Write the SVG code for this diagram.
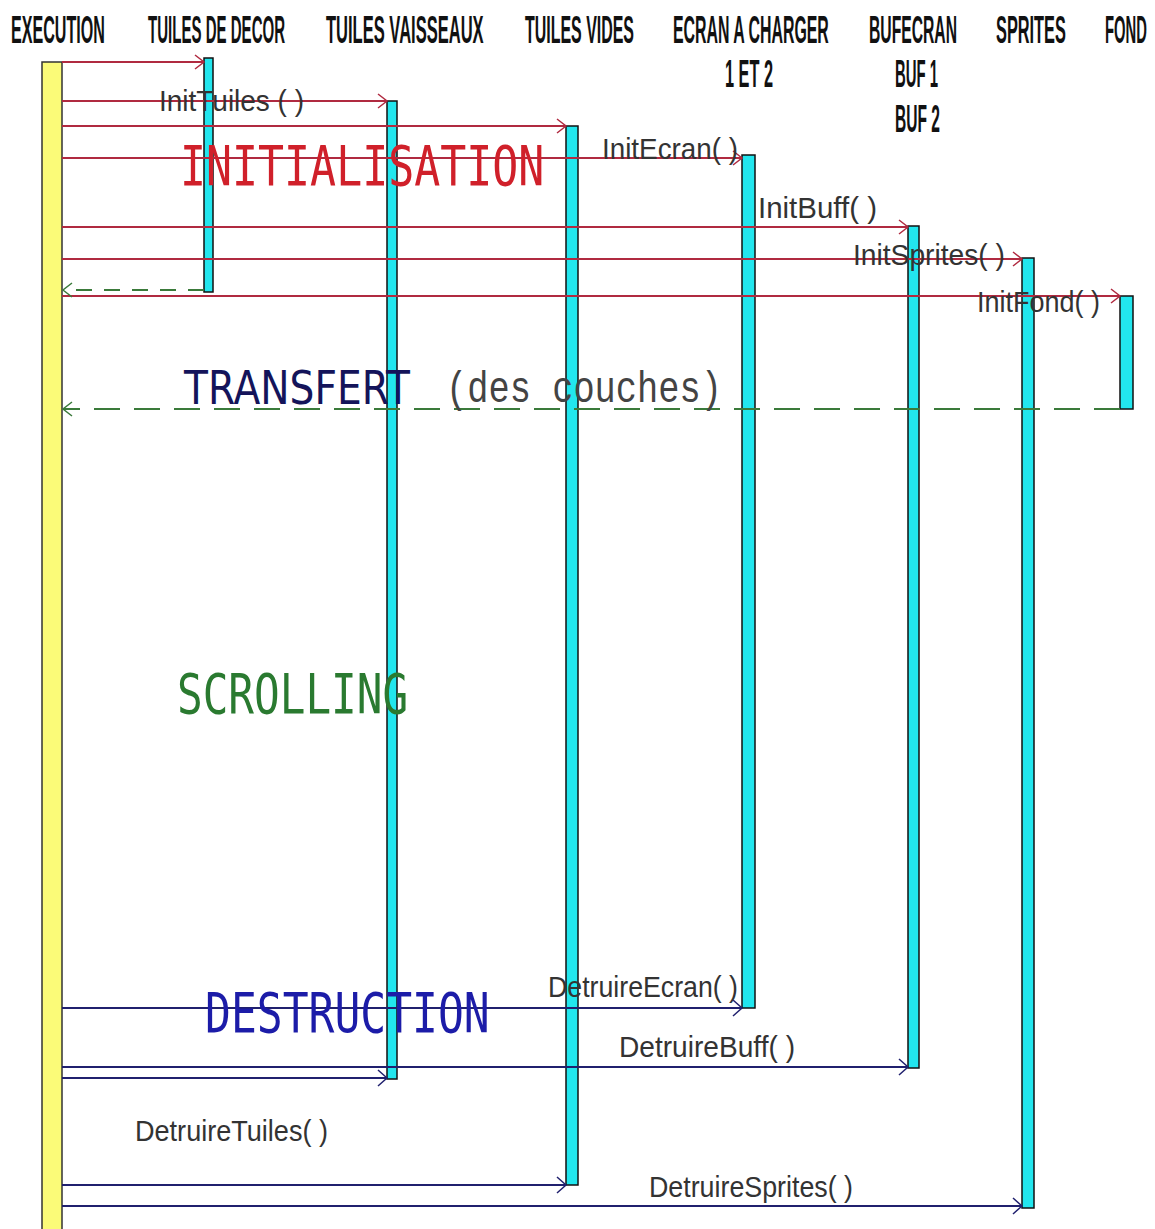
<svg xmlns="http://www.w3.org/2000/svg" width="1155" height="1229" viewBox="0 0 1155 1229">
<defs>
<style>
.hdr{font-family:"Liberation Sans","DejaVu Sans",sans-serif;font-weight:bold;font-size:38px;fill:#111}
.bar{fill:#22e6ee;stroke:#111;stroke-width:1.5}
.exec{fill:#fbfb78;stroke:#333;stroke-width:1.5}
.call{stroke:#b02a40;stroke-width:2;fill:none}
.dcall{stroke:#20206e;stroke-width:2;fill:none}
.ret{stroke:#3a7a3a;stroke-width:2;fill:none}
.lbl{font-family:"Liberation Sans","DejaVu Sans",sans-serif;font-size:30px;fill:#333}
.big{font-family:"DejaVu Sans Mono","Liberation Mono",monospace;font-size:56px}
</style>
<marker id="aRed" markerUnits="userSpaceOnUse" markerWidth="20" markerHeight="20" refX="0" refY="0" viewBox="-12 -10 14 20" orient="auto">
<path d="M-9,-7 L0,0 L-9,7" fill="none" stroke="#b02a40" stroke-width="1.5"/>
</marker>
<marker id="aBlue" markerUnits="userSpaceOnUse" markerWidth="20" markerHeight="20" refX="0" refY="0" viewBox="-12 -10 14 20" orient="auto">
<path d="M-9,-8 L0,0 L-9,8" fill="none" stroke="#20206e" stroke-width="1.5"/>
</marker>
<marker id="aGreen" markerUnits="userSpaceOnUse" markerWidth="20" markerHeight="20" refX="0" refY="0" viewBox="-12 -10 14 20" orient="auto">
<path d="M-9,-7 L0,0 L-9,7" fill="none" stroke="#3a7a3a" stroke-width="1.5"/>
</marker>
</defs>
<rect width="1155" height="1229" fill="#fff"/>

<g id="execution">
<text class="hdr" transform="translate(11,43) scale(0.424,1)">EXECUTION</text>
<rect class="exec" x="42" y="62" width="20" height="1175"/>
</g>
<g id="tuiles-decor">
<text class="hdr" transform="translate(148,43) scale(0.396,1)">TUILES DE DECOR</text>
<rect class="bar" x="204" y="58" width="9" height="234"/>
</g>
<g id="tuiles-vaisseaux">
<text class="hdr" transform="translate(326,43) scale(0.435,1)">TUILES VAISSEAUX</text>
<rect class="bar" x="387" y="101" width="10" height="978"/>
</g>
<g id="tuiles-vides">
<text class="hdr" transform="translate(525,43) scale(0.42,1)">TUILES VIDES</text>
<rect class="bar" x="566" y="126" width="12" height="1059"/>
</g>
<g id="ecran">
<text class="hdr" transform="translate(673,43) scale(0.418,1)">ECRAN A CHARGER</text>
<text class="hdr" transform="translate(725,87) scale(0.429,1)">1 ET 2</text>
<rect class="bar" x="742" y="155" width="13" height="853"/>
</g>
<g id="bufecran">
<text class="hdr" transform="translate(869,43) scale(0.413,1)">BUFECRAN</text>
<text class="hdr" transform="translate(895,87) scale(0.392,1)">BUF 1</text>
<text class="hdr" transform="translate(895,132) scale(0.41,1)">BUF 2</text>
<rect class="bar" x="908" y="226" width="11" height="842"/>
</g>
<g id="sprites">
<text class="hdr" transform="translate(996,43) scale(0.43,1)">SPRITES</text>
<rect class="bar" x="1022" y="258" width="12" height="950"/>
</g>
<g id="fond">
<text class="hdr" transform="translate(1105,43) scale(0.39,1)">FOND</text>
<rect class="bar" x="1120" y="296" width="13" height="113"/>
</g>

<g id="connectors">
<line class="call" x1="62" y1="62" x2="204" y2="62" marker-end="url(#aRed)"/>
<line class="call" x1="62" y1="101" x2="387" y2="101" marker-end="url(#aRed)"/>
<line class="call" x1="62" y1="126" x2="566" y2="126" marker-end="url(#aRed)"/>
<line class="call" x1="62" y1="158" x2="742" y2="158" marker-end="url(#aRed)"/>
<line class="call" x1="62" y1="227" x2="908" y2="227" marker-end="url(#aRed)"/>
<line class="call" x1="62" y1="259" x2="1022" y2="259" marker-end="url(#aRed)"/>
<line class="call" x1="62" y1="296" x2="1120" y2="296" marker-end="url(#aRed)"/>
<line class="ret" x1="204" y1="290" x2="63" y2="290" stroke-dasharray="16 12" marker-end="url(#aGreen)"/>
<line class="ret" x1="1120" y1="409" x2="63" y2="409" stroke-dasharray="26 14" marker-end="url(#aGreen)"/>
<line class="dcall" x1="62" y1="1008" x2="742" y2="1008" marker-end="url(#aBlue)"/>
<line class="dcall" x1="62" y1="1067" x2="908" y2="1067" marker-end="url(#aBlue)"/>
<line class="dcall" x1="62" y1="1078" x2="387" y2="1078" marker-end="url(#aBlue)"/>
<line class="dcall" x1="62" y1="1185" x2="566" y2="1185" marker-end="url(#aBlue)"/>
<line class="dcall" x1="62" y1="1206" x2="1022" y2="1206" marker-end="url(#aBlue)"/>
</g>

<g id="labels">
<text class="lbl" x="159" y="111" textLength="145" lengthAdjust="spacingAndGlyphs">InitTuiles ( )</text>
<text class="lbl" x="602" y="159" textLength="136" lengthAdjust="spacingAndGlyphs">InitEcran( )</text>
<text class="lbl" x="758" y="218" textLength="119" lengthAdjust="spacingAndGlyphs">InitBuff( )</text>
<text class="lbl" x="853" y="265" textLength="152" lengthAdjust="spacingAndGlyphs">InitSprites( )</text>
<text class="lbl" x="977" y="312" textLength="123" lengthAdjust="spacingAndGlyphs">InitFond( )</text>
<text class="lbl" x="548" y="997" textLength="190" lengthAdjust="spacingAndGlyphs">DetruireEcran( )</text>
<text class="lbl" x="619" y="1057" textLength="176" lengthAdjust="spacingAndGlyphs">DetruireBuff( )</text>
<text class="lbl" x="135" y="1141" textLength="193" lengthAdjust="spacingAndGlyphs">DetruireTuiles( )</text>
<text class="lbl" x="649" y="1197" textLength="204" lengthAdjust="spacingAndGlyphs">DetruireSprites( )</text>
<text class="big" transform="translate(180,185) scale(0.772,1)" fill="#d0202a">INITIALISATION</text>
<text x="184" y="404" font-family="'DejaVu Sans','Liberation Sans',sans-serif" font-size="46" fill="#14145a" textLength="226" lengthAdjust="spacingAndGlyphs">TRANSFERT</text>
<text x="446" y="402" font-family="'Liberation Mono','DejaVu Sans Mono',monospace" font-size="44" fill="#444" textLength="276" lengthAdjust="spacingAndGlyphs">(des couches)</text>
<text class="big" transform="translate(177,713) scale(0.762,1)" fill="#2a7a30">SCROLLING</text>
<text class="big" transform="translate(205,1032) scale(0.768,1)" fill="#1c1ca8">DESTRUCTION</text>
</g>
</svg>
